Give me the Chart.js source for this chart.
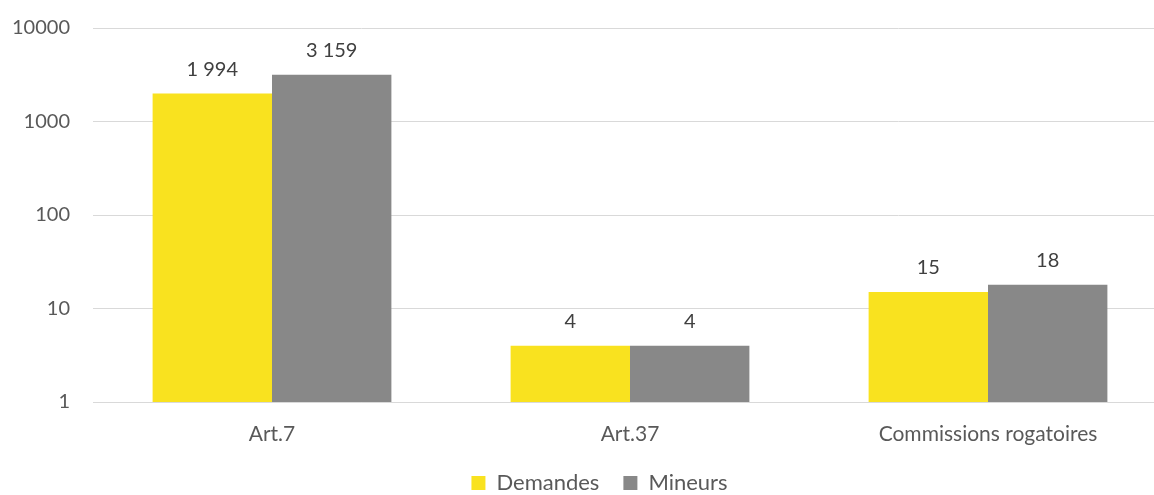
<!DOCTYPE html>
<html><head><meta charset="utf-8">
<script src="https://cdn.jsdelivr.net/npm/chart.js@4/dist/chart.umd.min.js"></script>
<style>html,body{margin:0;padding:0;background:#fff;overflow:hidden}#o{width:1154px;height:495px;overflow:hidden}#w{width:1198px;height:495px}</style>
</head><body><div id="o"><div id="w"><canvas id="c"></canvas></div></div>
<script>
const categories = ["Art.7", "Art.37", "Commissions rogatoires"];
const demandes = [1994, 4, 15];
const mineurs = [3159, 4, 18];
const tickValues = [1, 10, 100, 1000, 10000];

const fmt = v => String(v).replace(/\B(?=(\d{3})+(?!\d))/g, " ");
const FONT = "Lato, 'Open Sans', sans-serif";
const FS = 20;

const labelPlugin = {
  id: "vals",
  afterDatasetsDraw(chart) {
    const ctx = chart.ctx;
    ctx.save();
    ctx.font = FS + "px " + FONT;
    ctx.fillStyle = "#404040";
    ctx.textAlign = "center";
    ctx.textBaseline = "middle";
    chart.data.datasets.forEach((ds, i) => {
      chart.getDatasetMeta(i).data.forEach((bar, j) => {
        ctx.fillText(fmt(ds.data[j]), bar.x, bar.y - 24);
      });
    });
    ctx.restore();
  }
};

const legendShift = {
  id: "legendShift",
  afterLayout(chart) {
    if (chart.legend) { chart.legend.left += 16; chart.legend.right += 16; }
  }
};

new Chart(document.getElementById("c"), {
  type: "bar",
  data: {
    labels: categories,
    datasets: [
      { label: "Demandes", data: demandes, backgroundColor: "#F9E21F", borderWidth: 0 },
      { label: "Mineurs", data: mineurs, backgroundColor: "#888888", borderWidth: 0 }
    ]
  },
  options: {
    responsive: true,
    maintainAspectRatio: false,
    animation: false,
    layout: { padding: { top: 28, right: 31, left: 0, bottom: -9 } },
    datasets: { bar: { categoryPercentage: 0.667, barPercentage: 1.0 } },
    scales: {
      x: {
        grid: { display: false },
        border: { display: true, color: "#D9D9D9" },
        afterFit: s => { s.height = 46; s.paddingLeft = 0; s.paddingRight = 0; },
        ticks: { color: "#595959", font: { size: 21, family: FONT }, padding: 12 }
      },
      y: {
        type: "logarithmic",
        min: 1, max: 10000,
        afterBuildTicks: s => { s.ticks = tickValues.map(v => ({ value: v })); },
        afterFit: s => { s.width = 93; s.paddingTop = 0; s.paddingBottom = 0; },
        grid: { color: "#D9D9D9", drawTicks: false },
        border: { display: false },
        ticks: { color: "#595959", font: { size: FS, family: FONT }, padding: 23, callback: v => String(v) }
      }
    },
    plugins: {
      legend: {
        position: "bottom",
        labels: { color: "#595959", font: { size: 22, family: FONT }, boxWidth: 14, boxHeight: 14, padding: 24 }
      },
      tooltip: { enabled: false }
    }
  },
  plugins: [labelPlugin, legendShift]
});
</script></body></html>
